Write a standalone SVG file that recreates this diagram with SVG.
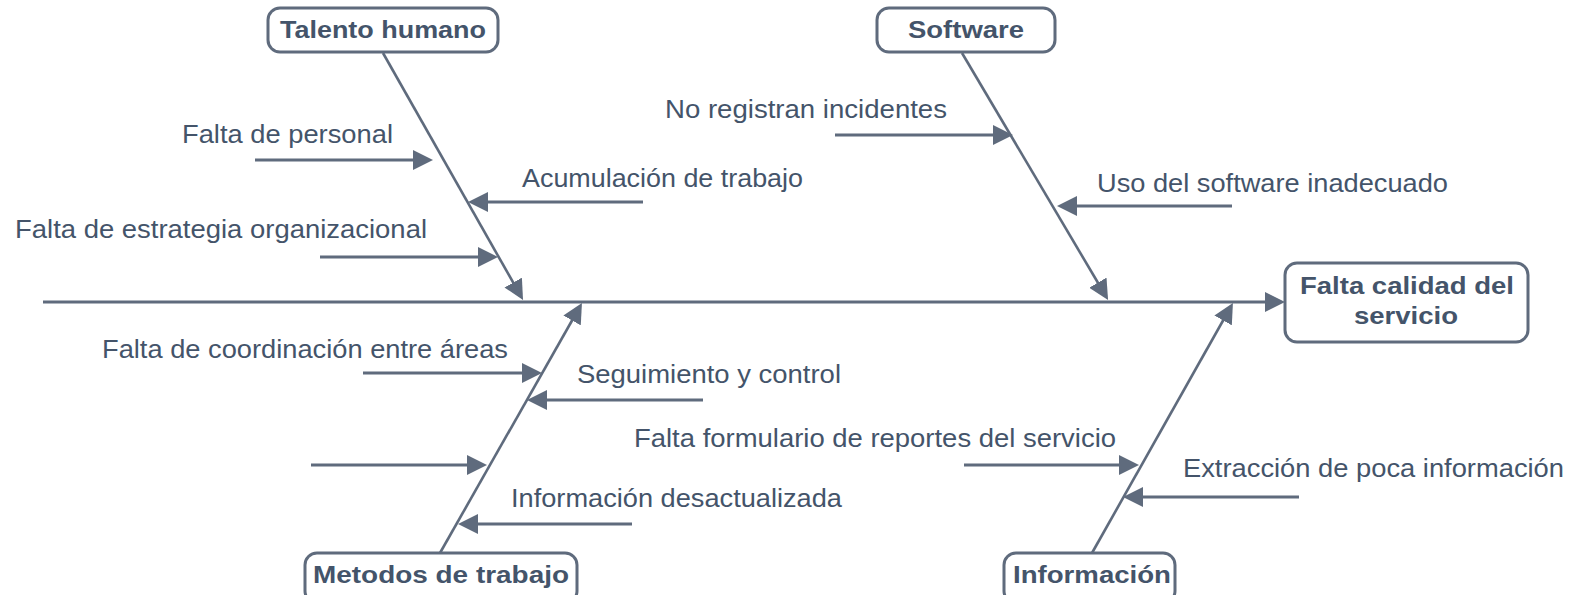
<svg xmlns="http://www.w3.org/2000/svg" width="1579" height="595" viewBox="0 0 1579 595">
<style>
.box{fill:#ffffff;stroke:#5f6b7d;stroke-width:3}
.lbl{font-family:"Liberation Sans",Arial,sans-serif;font-size:24.5px;font-weight:bold;fill:#44546a}
.txt{font-family:"Liberation Sans",Arial,sans-serif;font-size:26px;fill:#44546a}
.ln{stroke:#5f6b7d;stroke-width:3;fill:none;marker-end:url(#ah)}
.bone{stroke:#5f6b7d;stroke-width:2.6;fill:none;marker-end:url(#ah)}
</style>
<defs>
<marker id="ah" markerUnits="userSpaceOnUse" markerWidth="20" markerHeight="20" refX="12" refY="10" orient="auto" viewBox="0 0 20 20">
<path d="M0,0 L20,10 L0,20 z" fill="#5f6b7d"/>
</marker>
</defs>
<rect width="1579" height="595" fill="#ffffff"/>
<g id="connectors">
<line class="ln" x1="43" y1="302" x2="1277" y2="302"/>
<line class="bone" x1="383" y1="53" x2="519.1" y2="293"/>
<line class="bone" x1="440" y1="553" x2="578" y2="310"/>
<line class="bone" x1="962" y1="53" x2="1104" y2="293"/>
<line class="bone" x1="1092" y1="553" x2="1229" y2="310"/>
<line class="ln" x1="255" y1="160" x2="425" y2="160"/>
<line class="ln" x1="643" y1="202" x2="476" y2="202"/>
<line class="ln" x1="320" y1="257" x2="490" y2="257"/>
<line class="ln" x1="835" y1="135" x2="1005" y2="135"/>
<line class="ln" x1="1232" y1="206" x2="1065" y2="206"/>
<line class="ln" x1="363" y1="373" x2="534" y2="373"/>
<line class="ln" x1="703" y1="400" x2="535" y2="400"/>
<line class="ln" x1="311" y1="465" x2="479" y2="465"/>
<line class="ln" x1="632" y1="524" x2="466" y2="524"/>
<line class="ln" x1="964" y1="465" x2="1131" y2="465"/>
<line class="ln" x1="1299" y1="497" x2="1131" y2="497"/>
</g>
<g id="talento-humano">
<rect class="box" x="268" y="8" width="230" height="44" rx="12"/>
<text class="lbl" x="280" y="38" textLength="206" lengthAdjust="spacingAndGlyphs">Talento humano</text>
</g>
<g id="software">
<rect class="box" x="877" y="8" width="178" height="44" rx="12"/>
<text class="lbl" x="908" y="38" textLength="116" lengthAdjust="spacingAndGlyphs">Software</text>
</g>
<g id="falta-calidad">
<rect class="box" x="1285" y="263" width="243" height="79" rx="12"/>
<text class="lbl" x="1300" y="294" textLength="214" lengthAdjust="spacingAndGlyphs">Falta calidad del</text>
<text class="lbl" x="1354" y="324" textLength="104" lengthAdjust="spacingAndGlyphs">servicio</text>
</g>
<g id="metodos-de-trabajo">
<rect class="box" x="305" y="553" width="272" height="50" rx="12"/>
<text class="lbl" x="313" y="583" textLength="256" lengthAdjust="spacingAndGlyphs">Metodos de trabajo</text>
</g>
<g id="informacion">
<rect class="box" x="1004" y="553" width="171" height="50" rx="12"/>
<text class="lbl" x="1013" y="583" textLength="158" lengthAdjust="spacingAndGlyphs">Información</text>
</g>
<g id="causes">
<text class="txt" x="182" y="143" textLength="211" lengthAdjust="spacingAndGlyphs">Falta de personal</text>
<text class="txt" x="522" y="187" textLength="281" lengthAdjust="spacingAndGlyphs">Acumulación de trabajo</text>
<text class="txt" x="15" y="238" textLength="412" lengthAdjust="spacingAndGlyphs">Falta de estrategia organizacional</text>
<text class="txt" x="665" y="118" textLength="282" lengthAdjust="spacingAndGlyphs">No registran incidentes</text>
<text class="txt" x="1097" y="192" textLength="351" lengthAdjust="spacingAndGlyphs">Uso del software inadecuado</text>
<text class="txt" x="102" y="358" textLength="406" lengthAdjust="spacingAndGlyphs">Falta de coordinación entre áreas</text>
<text class="txt" x="577" y="383" textLength="264" lengthAdjust="spacingAndGlyphs">Seguimiento y control</text>
<text class="txt" x="511" y="507" textLength="331" lengthAdjust="spacingAndGlyphs">Información desactualizada</text>
<text class="txt" x="634" y="447" textLength="482" lengthAdjust="spacingAndGlyphs">Falta formulario de reportes del servicio</text>
<text class="txt" x="1183" y="477" textLength="381" lengthAdjust="spacingAndGlyphs">Extracción de poca información</text>
</g>
</svg>
